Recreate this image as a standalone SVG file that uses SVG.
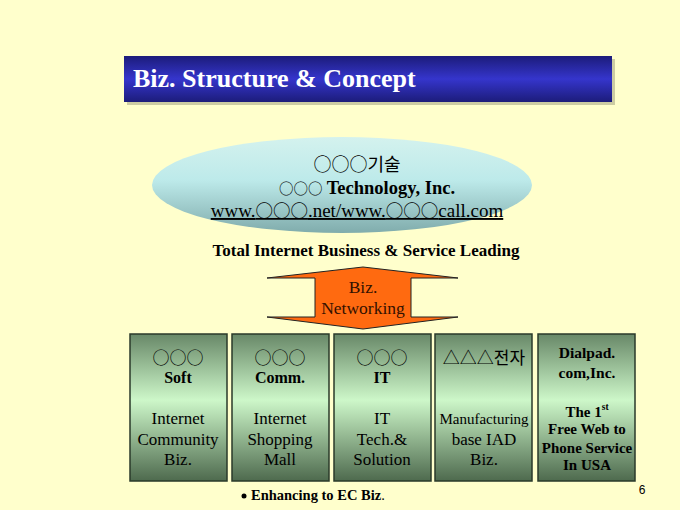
<svg xmlns="http://www.w3.org/2000/svg" width="680" height="510" viewBox="0 0 680 510">
<defs>
<linearGradient id="gTitle" x1="0" y1="0" x2="0" y2="1">
<stop offset="0" stop-color="#1c1c7a"/><stop offset="0.5" stop-color="#3535cc"/><stop offset="1" stop-color="#1c1c7a"/>
</linearGradient>
<linearGradient id="gEll" x1="0" y1="0" x2="0" y2="1">
<stop offset="0" stop-color="#d4f2ee"/><stop offset="0.45" stop-color="#bdeaea"/><stop offset="1" stop-color="#80acac"/>
</linearGradient>
<linearGradient id="gBox" x1="0" y1="0" x2="0" y2="1">
<stop offset="0" stop-color="#688868"/><stop offset="0.45" stop-color="#cdf7c9"/><stop offset="1" stop-color="#4e6a4e"/>
</linearGradient>
<style>
text{font-family:"Liberation Serif","Times New Roman","Noto Sans CJK KR",serif;fill:#000}
.k{font-family:"Noto Sans CJK KR","Liberation Serif",sans-serif;font-weight:normal}
.t{text-anchor:middle}
.b{font-weight:bold}
.box{fill:url(#gBox);stroke:#2a3a2a;stroke-width:1.5}
</style>
</defs>
<rect width="680" height="510" fill="#ffffcc"/>
<g id="title">
<rect x="127" y="59" width="488" height="46" fill="#9a9a7a" opacity="0.5"/>
<rect x="124" y="56" width="488" height="46" fill="url(#gTitle)"/>
<text x="133" y="87" font-weight="bold" font-size="26" style="fill:#fff">Biz. Structure &amp; Concept</text>
</g>
<g id="company">
<ellipse cx="342" cy="185" rx="190" ry="48" fill="url(#gEll)"/>
<text class="t" x="357" y="171" font-size="18"><tspan class="k">○○○기술</tspan></text>
<text class="t" x="367" y="194" font-size="18.5"><tspan class="k" font-size="14.5">○○○</tspan><tspan class="b"> Technology, Inc.</tspan></text>
<text class="t" x="357" y="217" font-size="19" text-decoration="underline">www.<tspan class="k" font-size="17.5">○○○</tspan>.net/www.<tspan class="k" font-size="17.5">○○○</tspan>call.com</text>
</g>
<text id="lead" class="t b" x="366" y="256" font-size="17">Total Internet Business &amp; Service Leading</text>
<g id="networking">
<polygon points="363,267 458,278 411,278 411,317 458,317 363,329 267,317 315,317 315,278 267,278" fill="#ff6a10" stroke="#222" stroke-width="1"/>
<text class="t" x="363" y="293" font-size="17.5" style="fill:#331100">Biz.</text>
<text class="t" x="363" y="314" font-size="17.5" style="fill:#331100">Networking</text>
</g>
<g id="soft">
<rect class="box" x="130" y="334" width="97" height="147"/>
<text class="t k" x="178" y="364" font-size="17">○○○</text>
<text class="t b" x="178" y="383" font-size="16">Soft</text>
<text class="t" x="178" y="424" font-size="17">Internet</text>
<text class="t" x="178" y="445" font-size="17">Community</text>
<text class="t" x="178" y="465" font-size="17">Biz.</text>
</g>
<g id="comm">
<rect class="box" x="232" y="334" width="97" height="147"/>
<text class="t k" x="280" y="364" font-size="17">○○○</text>
<text class="t b" x="280" y="383" font-size="16">Comm.</text>
<text class="t" x="280" y="424" font-size="17">Internet</text>
<text class="t" x="280" y="445" font-size="17">Shopping</text>
<text class="t" x="280" y="465" font-size="17">Mall</text>
</g>
<g id="it">
<rect class="box" x="334" y="334" width="97" height="147"/>
<text class="t k" x="382" y="364" font-size="17">○○○</text>
<text class="t b" x="382" y="383" font-size="16">IT</text>
<text class="t" x="382" y="424" font-size="17">IT</text>
<text class="t" x="382" y="445" font-size="17">Tech.&amp;</text>
<text class="t" x="382" y="465" font-size="17">Solution</text>
</g>
<g id="elec">
<rect class="box" x="435" y="334" width="97" height="147"/>
<text class="t k" x="484" y="364" font-size="17">△△△전자</text>
<text class="t" x="484" y="424" font-size="15">Manufacturing</text>
<text class="t" x="484" y="445" font-size="17">base IAD</text>
<text class="t" x="484" y="465" font-size="17">Biz.</text>
</g>
<g id="dialpad">
<rect class="box" x="538" y="334" width="97" height="147"/>
<text class="t b" x="587" y="358" font-size="15.5">Dialpad.</text>
<text class="t b" x="587" y="378" font-size="15.5">com,Inc.</text>
<text class="t b" x="587" y="417" font-size="15">The 1<tspan font-size="9.5" dy="-7">st</tspan></text>
<text class="t b" x="587" y="434" font-size="15">Free Web to</text>
<text class="t b" x="587" y="453" font-size="15">Phone Service</text>
<text class="t b" x="587" y="470" font-size="15">In USA</text>
</g>
<g id="note">
<circle cx="244" cy="496" r="2.5" fill="#000"/>
<text x="251" y="500" font-weight="bold" font-size="14.5">Enhancing to EC Biz<tspan font-weight="normal">.</tspan></text>
</g>
<text id="page" x="642" y="494" font-size="12" text-anchor="middle" style="font-family:'Liberation Sans',sans-serif">6</text>
<g id="connectors"/>
</svg>
